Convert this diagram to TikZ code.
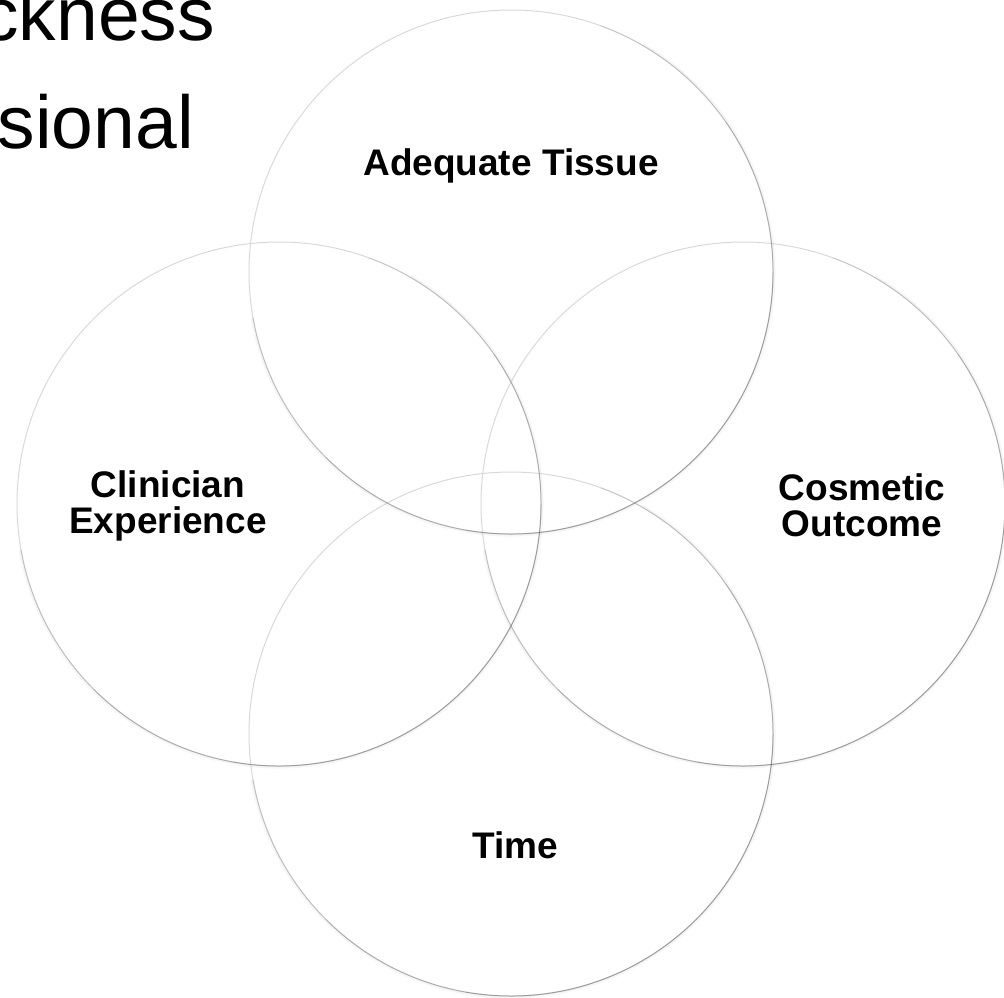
\documentclass[tikz,border=0pt]{standalone}
\usepackage{fontspec}
\setmainfont{Liberation Sans}
\begin{document}
\begin{tikzpicture}[x=1pt,y=-1pt,
  venn/.style={circle, draw=black!15, line width=1pt, inner sep=0pt, minimum size=524pt},
  shade1/.style={draw=black, draw opacity=0.09, line width=1pt},
  halo/.style={draw=black, draw opacity=0.035, line width=3pt},
  lbl/.style={font=\fontsize{37}{36}\selectfont\bfseries, align=center, inner sep=0pt, text=black},
  big/.style={font=\fontsize{75}{108}\selectfont, inner sep=0pt, anchor=base east}]
\useasboundingbox (0,0) rectangle (1004,997);
\clip (0,0) rectangle (1004,997);
\node[big] (t1) at (215,40) {ckness};
\node[big] (t2) at (194,148) {sional};
\node[venn] (ctop) at (511,272) {};
\node[venn] (cleft) at (279,504) {};
\node[venn] (cright) at (743,504) {};
\node[venn] (cbot) at (511,734) {};
\foreach \c in {ctop,cleft,cright,cbot}{
  \draw[halo] (\c) ++(-60:263) arc[start angle=-60, end angle=170, radius=263];
  \draw[shade1] (\c) ++(-70:262) arc[start angle=-70, end angle=170, radius=262];
  \draw[shade1] (\c) ++(-35:262) arc[start angle=-35, end angle=135, radius=262];
  \draw[shade1] (\c) ++(0:262) arc[start angle=0, end angle=100, radius=262];
}
\node[lbl] (ltop) at (511,166) {Adequate Tissue};
\node[lbl] (lleft) at (168,506) {Clinician\\Experience};
\node[lbl] (lright) at (862,505) {Cosmetic\\Outcome};
\node[lbl] (lbot) at (515,845) {Time};
\end{tikzpicture}
\end{document}
